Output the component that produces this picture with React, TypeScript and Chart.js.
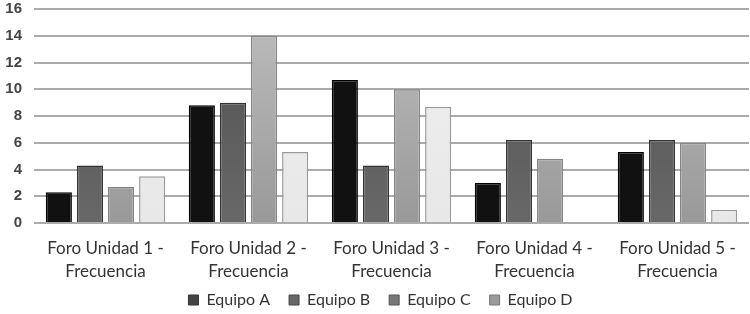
import React, { useEffect, useRef } from "react";
import { Chart, registerables } from "chart.js";

Chart.register(...registerables);

const categories = [
  ["Foro Unidad 1 -", "Frecuencia"],
  ["Foro Unidad 2 -", "Frecuencia"],
  ["Foro Unidad 3 -", "Frecuencia"],
  ["Foro Unidad 4 -", "Frecuencia"],
  ["Foro Unidad 5 -", "Frecuencia"],
];
const seriesNames = ["Equipo A", "Equipo B", "Equipo C", "Equipo D"];
const equipoA = [2.3, 8.8, 10.7, 3.0, 5.3];
const equipoB = [4.3, 9.0, 4.3, 6.2, 6.2];
const equipoC = [2.7, 14.0, 10.0, 4.8, 6.0];
const equipoD = [3.5, 5.3, 8.7, 0, 1.0];
const yTicks = [0, 2, 4, 6, 8, 10, 12, 14, 16];

const barTop = ["#111111", "#505050", "#bdbdbd", "#efefef"];
const barBottom = ["#111111", "#686868", "#999999", "#e8e8e8"];
const barBorder = ["#000000", "#333333", "#858585", "#9a9a9a"];
const legendFill = ["#444444", "#666666", "#777777", "#9a9a9a"];
const legendBorder = ["#333333", "#444444", "#555555", "#777777"];

export default function App() {
  const ref = useRef<HTMLCanvasElement>(null);
  useEffect(() => {
    document.body.style.margin = "0";
    const ctx = ref.current!.getContext("2d")!;
    const values = [equipoA, equipoB, equipoC, equipoD];
    const grad = (i: number) => (c: any) => {
      const area = c.chart.chartArea;
      if (!area) return barTop[i];
      const g = c.chart.ctx.createLinearGradient(0, area.top, 0, area.bottom);
      g.addColorStop(0, barTop[i]);
      g.addColorStop(1, barBottom[i]);
      return g;
    };
    const chart = new Chart(ctx, {
      type: "bar",
      data: {
        labels: categories,
        datasets: seriesNames.map((name, i) => ({
          label: name,
          data: values[i],
          backgroundColor: grad(i),
          borderColor: barBorder[i],
          borderWidth: 1.5,
          barPercentage: 0.84,
          categoryPercentage: 0.87,
        })),
      },
      plugins: [
        {
          id: "shiftLegend",
          afterLayout(c: any) {
            if (c.legend) c.legend.left += 12;
          },
        },
      ],
      options: {
        animation: false,
        responsive: false,
        maintainAspectRatio: false,
        layout: { padding: { top: 9, right: 1, left: 0, bottom: -4 } },
        plugins: {
          tooltip: { enabled: false },
          legend: {
            position: "bottom",
            labels: {
              boxWidth: 10,
              boxHeight: 10,
              padding: 19,
              color: "#333",
              font: { family: "Lato", size: 16 },
              generateLabels: () =>
                seriesNames.map((n, i) => ({
                  text: n,
                  fillStyle: legendFill[i],
                  strokeStyle: legendBorder[i],
                  lineWidth: 1,
                  datasetIndex: i,
                  fontColor: "#333",
                })),
            },
          },
        },
        scales: {
          x: {
            grid: { display: false },
            border: { display: false },
            afterFit: (s: any) => {
              s.height = 50;
              s._computeLabelArea = () => undefined;
            },
            ticks: {
              color: "#333",
              font: { family: "Lato", size: 17, lineHeight: 1.35 },
              maxRotation: 0,
              autoSkip: false,
              padding: 6,
            },
          },
          y: {
            min: 0,
            max: 16,
            afterBuildTicks: (s: any) => {
              s.ticks = yTicks.map((v) => ({ value: v }));
            },
            afterFit: (s: any) => {
              s.width = 34;
              s.paddingTop = 0;
              s.paddingBottom = 0;
            },
            grid: { color: "#ababab", lineWidth: 2, drawTicks: false },
            border: { display: false },
            ticks: {
              color: "#444",
              autoSkip: false,
              font: { family: "Liberation Sans", size: 15, weight: "bold" },
              padding: 12,
            },
          },
        },
      },
    });
    return () => chart.destroy();
  }, []);
  return <canvas ref={ref} width={750} height={314} style={{ display: "block" }} />;
}
